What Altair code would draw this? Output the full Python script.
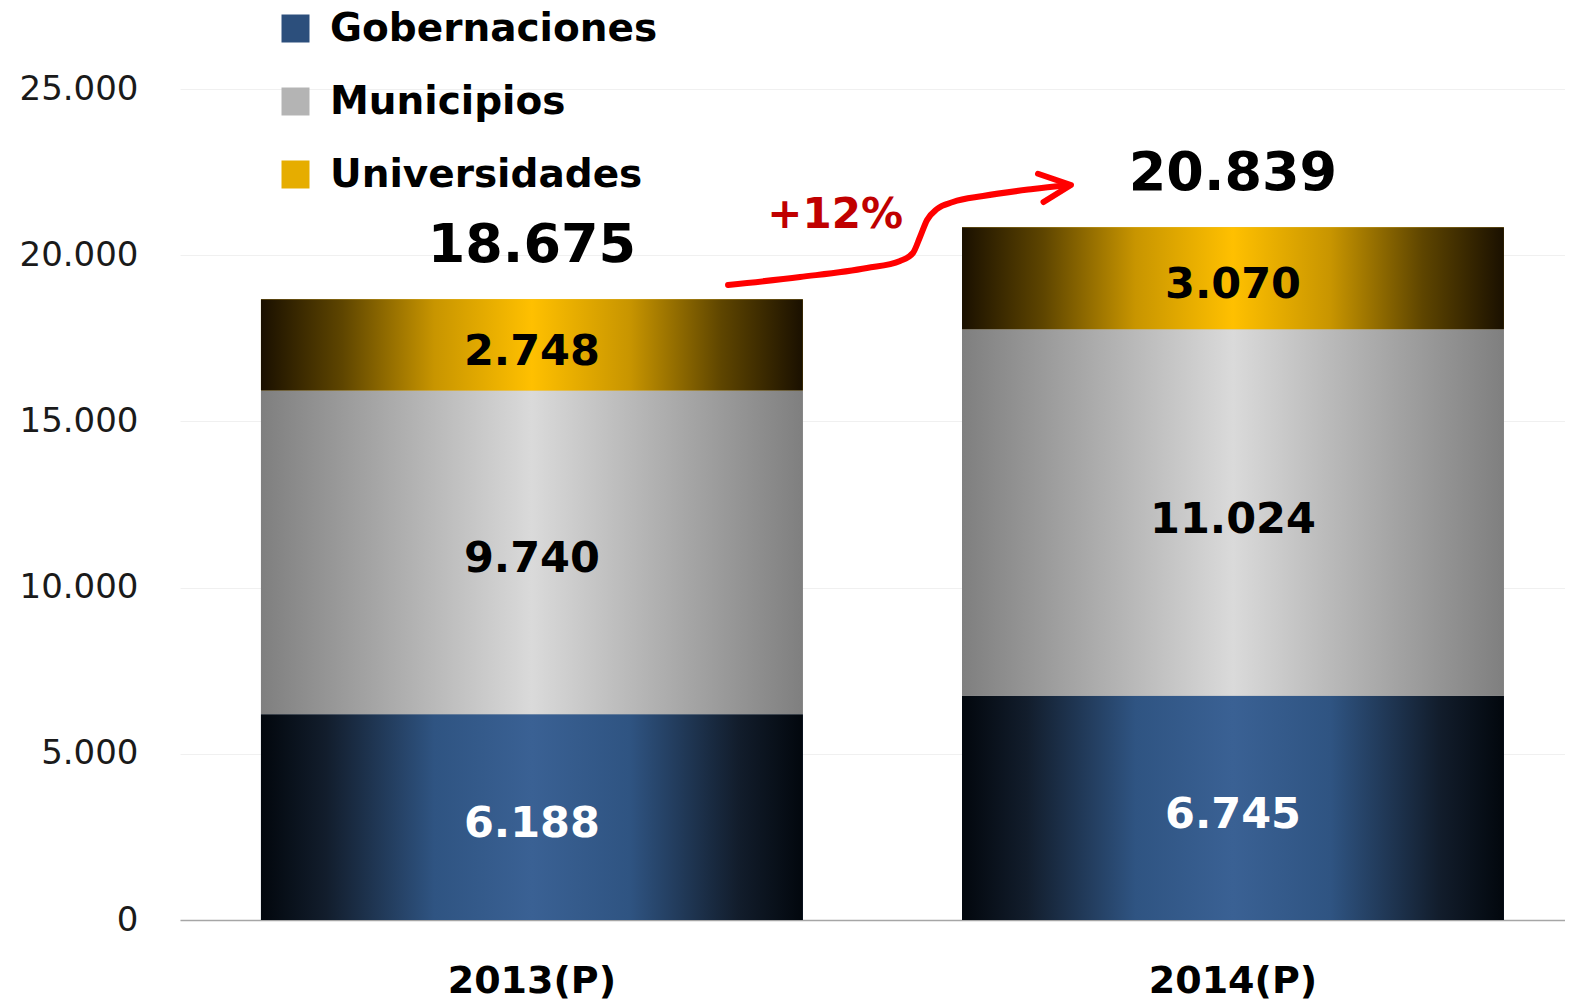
import altair as alt
import pandas as pd

years = ["2013(P)", "2014(P)"]
series = ["Gobernaciones", "Municipios", "Universidades"]
gobernaciones = [6188, 6745]
municipios = [9740, 11024]
universidades = [2748, 3070]
totals = [18675, 20839]
y_ticks = [0, 5000, 10000, 15000, 20000, 25000]
growth_label = "+12%"

# growth arrow annotation: x as fraction of plot width, y in data units
arrow_x = [0.3957, 0.4477, 0.4960, 0.5199, 0.5292, 0.5343, 0.5394, 0.5466, 0.5581, 0.5798, 0.6159, 0.6412]
arrow_y = [19104, 19344, 19615, 19826, 20066, 20548, 21059, 21390, 21600, 21781, 21992, 22112]
head_x = [0.6195, 0.6433, 0.6235]
head_y = [22450, 22112, 21600]
growth_x = [0.473]
growth_y = [21200]

rows = []
for i, yr in enumerate(years):
    for j, (s, vals) in enumerate(zip(series, [gobernaciones, municipios, universidades])):
        rows.append({"year": yr, "series": s, "value": vals[i], "order": j})
df = pd.DataFrame(rows)
df_tot = pd.DataFrame({"year": years, "total": totals})
df_arrow = pd.DataFrame({"ax": arrow_x, "ay": arrow_y})
df_head = pd.DataFrame({"ax": head_x, "ay": head_y, "o": list(range(len(head_x)))})
df_growth = pd.DataFrame({"ax": growth_x, "ay": growth_y, "label": [growth_label]})

FONT = "DejaVu Sans"
fmt = "replace(format(datum.value, ','), ',', '.')"

x_axis = alt.Axis(
    title=None, labelAngle=0, ticks=False, domain=True, domainColor="#a6a6a6",
    domainWidth=1.5, labelFont=FONT, labelFontSize=38, labelFontWeight="bold",
    labelColor="black", labelPadding=42, grid=False,
)
x_scale = alt.Scale(paddingInner=0.227, paddingOuter=0.1013, align=0.57)


def xe():
    return alt.X("year:N", sort=years, scale=x_scale, axis=x_axis)


y_scale = alt.Scale(domain=[0, 25000], nice=False, zero=True)
y_axis = alt.Axis(
    title=None, values=y_ticks, labelExpr=fmt, grid=True, gridColor="#f0f0f0",
    gridWidth=1, domain=False, ticks=False, labelFont=FONT, labelFontSize=34,
    labelColor="#1a1a1a", labelPadding=42,
)


def ye(field):
    return alt.Y(field, scale=y_scale, axis=y_axis)


base = alt.Chart(df).transform_stack(
    stack="value", as_=["y0", "y1"], groupby=["year"], sort=[alt.SortField("order")]
)

legend = alt.Legend(
    title=None, orient="none", legendX=96, legendY=-80, symbolType="square",
    symbolSize=784, symbolStrokeWidth=0, labelFont=FONT, labelFontSize=39,
    labelFontWeight="bold", labelColor="black", rowPadding=33, labelOffset=15, padding=0,
    labelLimit=0,
)

solid = base.mark_bar().encode(
    x=xe(),
    y=ye("y0:Q"),
    y2="y1:Q",
    color=alt.Color(
        "series:N",
        scale=alt.Scale(domain=series, range=["#2c4f7c", "#b4b4b4", "#e6ad00"]),
        legend=legend,
    ),
)


def grad(stops):
    return alt.Gradient(
        gradient="linear", x1=0, x2=1, y1=0, y2=0,
        stops=[alt.GradientStop(offset=o, color=c) for o, c in stops],
    )


grads = {
    "Gobernaciones": grad([(0, "#02070d"), (0.12, "#121d2c"), (0.32, "#2f5482"), (0.5, "#3a6194"),
                           (0.68, "#2f5482"), (0.88, "#121d2c"), (1, "#02070d")]),
    "Municipios": grad([(0, "#7f7f7f"), (0.5, "#dadada"), (1, "#7f7f7f")]),
    "Universidades": grad([(0, "#1a1000"), (0.15, "#5e4500"), (0.32, "#c89500"), (0.5, "#ffc000"),
                           (0.68, "#c89500"), (0.85, "#5e4500"), (1, "#1a1000")]),
}

grad_layers = [
    base.transform_filter(alt.datum.series == s).mark_bar(color=grads[s]).encode(
        x=xe(), y=ye("y0:Q"), y2="y1:Q"
    )
    for s in series
]

seg_text = base.transform_calculate(
    mid="(datum.y0 + datum.y1) / 2", label=fmt
).mark_text(font=FONT, fontSize=43, fontWeight="bold", baseline="middle", align="center",
            dy=7).encode(
    x=xe(),
    y=ye("mid:Q"),
    text="label:N",
    color=alt.condition(alt.datum.series == "Gobernaciones", alt.value("white"), alt.value("black")),
)

tot_text = alt.Chart(df_tot).transform_calculate(
    label="replace(format(datum.total, ','), ',', '.')"
).mark_text(font=FONT, fontSize=54, fontWeight="bold", baseline="alphabetic", dy=-37,
            color="black").encode(
    x=xe(),
    y=ye("total:Q"),
    text="label:N",
)

ax_enc = alt.X("ax:Q", scale=alt.Scale(domain=[0, 1], nice=False, zero=False), axis=None)

arrow = alt.Chart(df_arrow).mark_line(
    color="#ff0000", strokeWidth=6, interpolate="monotone", strokeCap="round"
).encode(x=ax_enc, y=ye("ay:Q"))

head = alt.Chart(df_head).mark_line(
    color="#ff0000", strokeWidth=6, strokeCap="round", strokeJoin="round"
).encode(x=ax_enc, y=ye("ay:Q"), order="o:Q")

growth = alt.Chart(df_growth).mark_text(
    font=FONT, fontSize=42, fontWeight="bold", color="#c00000", baseline="middle", align="center"
).encode(x=ax_enc, y=ye("ay:Q"), text="label:N")

bars_layer = alt.layer(solid, *grad_layers, seg_text, tot_text)
annot_layer = alt.layer(arrow, head, growth)

chart = alt.layer(bars_layer, annot_layer).resolve_scale(
    x="independent"
).properties(
    width=1385,
    height=831,
    padding={"left": 172, "top": 81, "right": 0, "bottom": 80},
    autosize=alt.AutoSizeParams(type="none"),
).configure(
    font=FONT
).configure_view(
    stroke="transparent", strokeWidth=0
)

chart.save("out.html", embed_options={"renderer": "svg", "actions": False})
